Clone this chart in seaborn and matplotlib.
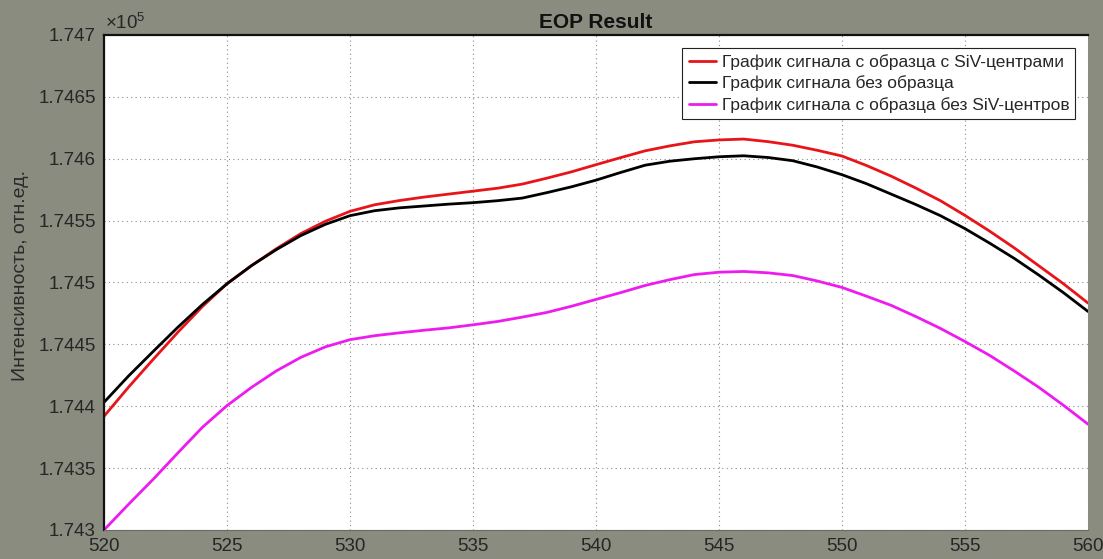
import numpy as np
import pandas as pd
import seaborn as sns
import matplotlib
matplotlib.use("Agg")
import matplotlib.pyplot as plt
from matplotlib.ticker import FixedLocator, FuncFormatter
from matplotlib.lines import Line2D

# Wavelength grid, nm
wavelength = list(range(520, 561))

# Signal with the SiV-centre sample
signal_siv = [174391.9, 174415.5, 174437.9, 174459.8, 174480.6, 174499.0,
              174513.7, 174527.2, 174539.5, 174549.5, 174557.5, 174562.8,
              174566.2, 174569.0, 174571.4, 174573.8, 174576.2, 174579.5,
              174584.3, 174589.4, 174595.2, 174600.9, 174606.4, 174610.4,
              174613.7, 174615.2, 174615.9, 174613.8, 174610.9, 174606.8,
              174602.2, 174594.5, 174585.9, 174576.3, 174566.1, 174554.2,
              174541.5, 174528.0, 174513.5, 174499.0, 174483.4]

# Signal without any sample
signal_empty = [174403.2, 174424.5, 174444.3, 174463.8, 174482.2, 174499.0,
                174513.7, 174526.5, 174537.9, 174547.0, 174554.0, 174558.0,
                174560.3, 174561.8, 174563.3, 174564.5, 174566.1, 174568.2,
                174572.6, 174577.3, 174582.7, 174588.9, 174594.8, 174598.0,
                174600.0, 174601.6, 174602.4, 174601.0, 174598.4, 174593.3,
                174587.1, 174579.8, 174571.4, 174563.0, 174554.0, 174543.5,
                174531.8, 174519.5, 174506.0, 174491.8, 174476.6]

# Signal with the sample lacking SiV centres
signal_nosiv = [174300.0, 174320.8, 174341.0, 174362.2, 174383.0, 174400.5,
                174415.3, 174428.5, 174439.5, 174448.0, 174453.8, 174457.0,
                174459.3, 174461.4, 174463.3, 174465.8, 174468.5, 174472.0,
                174475.8, 174480.8, 174486.3, 174491.8, 174497.6, 174502.3,
                174506.4, 174508.3, 174508.9, 174507.8, 174505.6, 174501.2,
                174496.0, 174488.9, 174481.5, 174472.5, 174462.9, 174452.3,
                174441.1, 174428.5, 174415.3, 174400.8, 174385.5]

series_labels = ["График сигнала с образца с SiV-центрами",
                 "График сигнала без образца",
                 "График сигнала с образца без SiV-центров"]
series_colors = ["#e8141a", "#000000", "#ee1bee"]

x_ticks = [520, 525, 530, 535, 540, 545, 550, 555, 560]
y_ticks = [174300, 174350, 174400, 174450, 174500, 174550, 174600, 174650, 174700]

frames = []
for label, values in zip(series_labels, [signal_siv, signal_empty, signal_nosiv]):
    frames.append(pd.DataFrame({"wl": wavelength, "val": values, "series": label}))
df = pd.concat(frames, ignore_index=True)

sns.set_style("white")
plt.rcParams["font.family"] = ["Liberation Sans", "DejaVu Sans"]
plt.rcParams["mathtext.fontset"] = "custom"
plt.rcParams["mathtext.rm"] = "Liberation Sans"
plt.rcParams["mathtext.it"] = "Liberation Sans"

bg = "#8a8c80"
fig = plt.figure(figsize=(11.03, 5.59), dpi=100, facecolor=bg)
ax = fig.add_axes([0.0943, 0.0519, 0.8921, 0.8855])
ax.set_facecolor("white")

palette = dict(zip(series_labels, series_colors))
sns.lineplot(data=df, x="wl", y="val", hue="series", palette=palette,
             hue_order=series_labels, linewidth=2.0, ax=ax, legend=False,
             estimator=None, sort=False)

ax.set_xlim(520, 560)
ax.set_ylim(174300, 174700)
ax.xaxis.set_major_locator(FixedLocator(x_ticks))
ax.yaxis.set_major_locator(FixedLocator(y_ticks))
ax.yaxis.set_major_formatter(FuncFormatter(lambda v, p: f"{v / 1e5:g}"))

ax.grid(True, color="#8a8a8a", linestyle=(0, (1, 3)), linewidth=0.8)
ax.set_axisbelow(True)

ax.tick_params(axis="both", direction="in", length=7, width=0.8,
               color="#555555", labelsize=13.5, labelcolor="#262626", pad=6)

for side in ["top", "left"]:
    ax.spines[side].set_color("#111111")
    ax.spines[side].set_linewidth(1.6)
ax.spines["bottom"].set_color("#6a6c62")
ax.spines["bottom"].set_linewidth(0.8)
ax.spines["right"].set_visible(False)

ax.set_xlabel("")
ax.set_ylabel("Интенсивность, отн.ед.", fontsize=14, color="#2a2a2a")
ax.yaxis.set_label_coords(-0.076, 0.515)
ax.set_title("EOP Result", fontsize=15, fontweight="bold", color="#111111", pad=5)

ax.text(0.001, 1.004, r"$\times10^{5}$", transform=ax.transAxes,
        fontsize=13.5, color="#262626", ha="left", va="bottom")

handles = [Line2D([0], [0], color=c, linewidth=2.0) for c in series_colors]
leg = ax.legend(handles, series_labels, loc="upper right",
                bbox_to_anchor=(0.987, 0.974), borderaxespad=0,
                fontsize=12.5, frameon=True, fancybox=False, framealpha=1,
                edgecolor="#222222", handlelength=1.6, handletextpad=0.3,
                labelspacing=0.32, borderpad=0.35)
leg.get_frame().set_linewidth(0.8)

fig.savefig("out.png", dpi=100, facecolor=bg)
